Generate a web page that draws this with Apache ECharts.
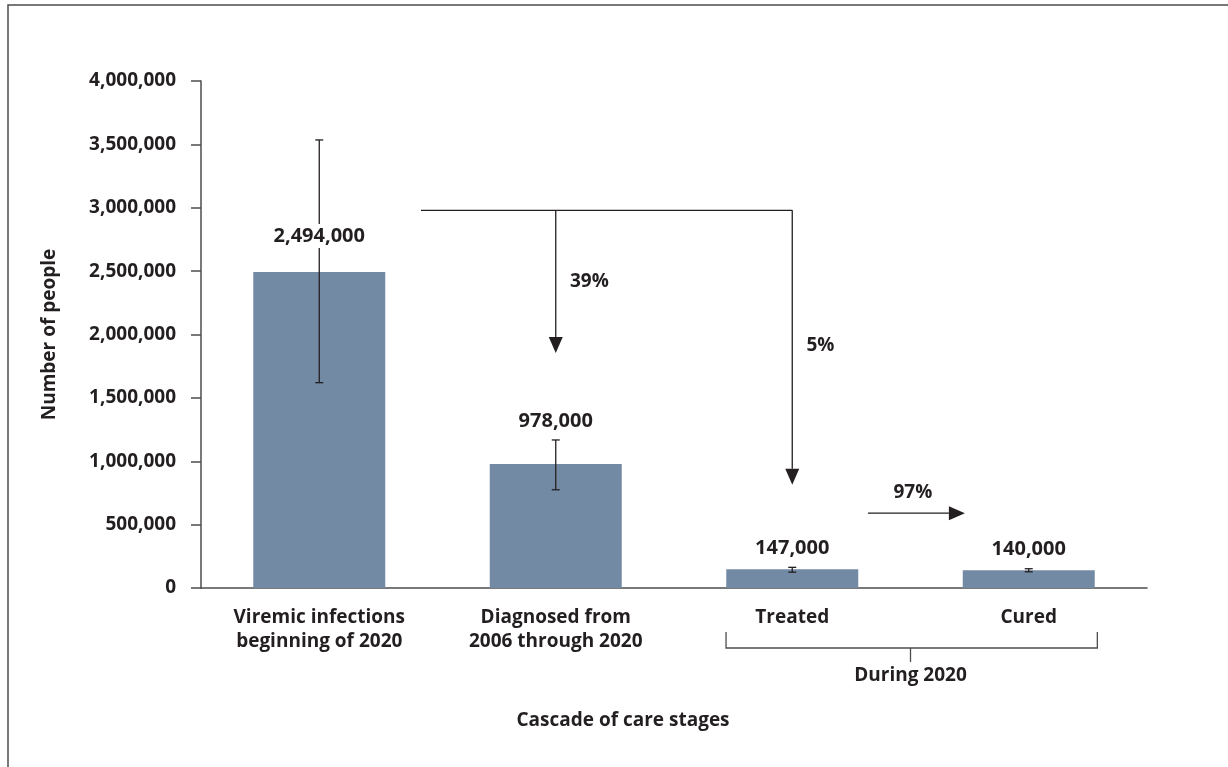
<!DOCTYPE html>
<html>
<head>
<meta charset="utf-8">
<script src="https://cdn.jsdelivr.net/npm/echarts@6/dist/echarts.min.js"></script>
<style>
  html, body { margin: 0; padding: 0; background: #fff; }
  #chart { width: 1228px; height: 767px; }
</style>
</head>
<body>
<div id="chart"></div>
<script>
"use strict";

// ---------- data ----------
const stages = ["Viremic infections\nbeginning of 2020", "Diagnosed from\n2006 through 2020", "Treated", "Cured"];
const people = [2494000, 978000, 147000, 140000];
const errLow = [1620000, 775000, 125000, 128000];
const errHigh = [3535000, 1168000, 163000, 152000];

// flow arrows in data units: [x1, y1, x2, y2] (x on a -0.5..3.5 scale matching the categories)
const flowLine = [[0.43, 2980000, 2.0, 2980000]];
const flowArrows = [
  [1.0, 2980000, 1.0, 1855000],
  [2.0, 2980000, 2.0, 815000],
  [2.32, 590000, 2.73, 590000],
];
const flowLabels = [
  { x: 1.06, y: 2420000, text: "39%" },
  { x: 2.06, y: 1910000, text: "5%" },
  { x: 2.51, y: 750000, text: "97%" },
];
// bracket grouping Treated + Cured: [left, right, middle]
const duringSpan = [1.72, 3.29, 2.5];

const FONT = "'Open Sans', sans-serif";
const INK = "#231f20";
const AXIS = "#4d4d4d";
const BAR = "#738aa5";

const fmt = (v) => Number(v).toLocaleString("en-US");

// how far above each bar top the value label sits (px)
const labelLift = [36, 43, 21, 21];

const chart = echarts.init(document.getElementById("chart"));

chart.setOption({
  animation: false,
  graphic: [
    { type: "polyline", shape: { points: [[8, 767], [8, 5], [1228, 5]] }, style: { stroke: AXIS, lineWidth: 1.5, fill: null } },
  ],
  grid: { left: 201, right: 81, top: 81, bottom: 179, containLabel: false },
  xAxis: [
    {
      type: "category",
      data: stages,
      axisLine: { lineStyle: { color: AXIS, width: 1.5 } },
      axisTick: { show: false },
      axisLabel: { color: INK, fontFamily: FONT, fontWeight: "bold", fontSize: 19, lineHeight: 24, margin: 18 },
      name: "Cascade of care stages",
      nameLocation: "middle",
      nameGap: 123,
      nameTextStyle: { color: INK, fontFamily: FONT, fontWeight: "bold", fontSize: 19, padding: [0, 102, 0, 0] },
    },
    { type: "value", min: -0.5, max: 3.5, show: false },
  ],
  yAxis: {
    type: "value",
    min: 0,
    max: 4000000,
    interval: 500000,
    axisLine: { show: true, onZero: false, lineStyle: { color: AXIS, width: 1.5 } },
    axisTick: { show: true, length: 10, lineStyle: { color: AXIS, width: 1.5 } },
    splitLine: { show: false },
    axisLabel: { color: INK, fontFamily: FONT, fontWeight: "bold", fontSize: 19, margin: 25, formatter: (v) => fmt(v) },
    name: "Number of people",
    nameLocation: "middle",
    nameGap: 142,
    nameTextStyle: { color: INK, fontFamily: FONT, fontWeight: "bold", fontSize: 19 },
  },
  series: [
    {
      type: "bar",
      barWidth: 132,
      itemStyle: { color: BAR },
      data: people,
      z: 1,
    },
    {
      // error bars + value labels (labels on top so they break the whisker)
      type: "custom",
      z: 3,
      data: stages.map((_, i) => [i, errLow[i], errHigh[i], people[i]]),
      renderItem: (params, api) => {
        const i = params.dataIndex;
        const lo = api.coord([api.value(0), api.value(1)]);
        const hi = api.coord([api.value(0), api.value(2)]);
        const top = api.coord([api.value(0), api.value(3)]);
        const cap = 4;
        const st = { stroke: INK, lineWidth: 1.3 };
        return {
          type: "group",
          children: [
            { type: "line", shape: { x1: lo[0], y1: lo[1], x2: hi[0], y2: hi[1] }, style: st },
            { type: "line", shape: { x1: lo[0] - cap, y1: lo[1], x2: lo[0] + cap, y2: lo[1] }, style: st },
            { type: "line", shape: { x1: hi[0] - cap, y1: hi[1], x2: hi[0] + cap, y2: hi[1] }, style: st },
            {
              type: "text",
              x: top[0],
              y: top[1] - labelLift[i],
              style: {
                text: fmt(api.value(3)), fill: INK, font: "bold 20px " + FONT,
                textAlign: "center", textVerticalAlign: "middle",
                backgroundColor: "#fff", padding: [2, 3],
              },
            },
          ],
        };
      },
    },
    {
      // flow line + arrows
      type: "custom",
      xAxisIndex: 1,
      z: 3,
      data: flowLine.map((d) => d.concat(0)).concat(flowArrows.map((d) => d.concat(1))),
      renderItem: (params, api) => {
        const a = api.coord([api.value(0), api.value(1)]);
        const b = api.coord([api.value(2), api.value(3)]);
        const st = { stroke: INK, lineWidth: 1.3 };
        const kids = [{ type: "line", shape: { x1: a[0], y1: a[1], x2: b[0], y2: b[1] }, style: st }];
        if (api.value(4) === 1) {
          const ang = Math.atan2(b[1] - a[1], b[0] - a[0]);
          const L = 16, W = 7;
          const bx = b[0] - L * Math.cos(ang), by = b[1] - L * Math.sin(ang);
          const px = -Math.sin(ang) * W, py = Math.cos(ang) * W;
          kids[0].shape.x2 = bx; kids[0].shape.y2 = by;
          kids.push({ type: "polygon", shape: { points: [[b[0], b[1]], [bx + px, by + py], [bx - px, by - py]] }, style: { fill: INK } });
        }
        return { type: "group", children: kids };
      },
    },
    {
      // percentage labels
      type: "custom",
      xAxisIndex: 1,
      z: 3,
      data: flowLabels.map((d) => [d.x, d.y]),
      renderItem: (params, api) => {
        const p = api.coord([api.value(0), api.value(1)]);
        const txt = flowLabels[params.dataIndex].text;
        return {
          type: "text",
          x: p[0], y: p[1],
          style: { text: txt, fill: INK, font: "bold 19px " + FONT, textAlign: txt === "97%" ? "center" : "left", textVerticalAlign: "middle" },
        };
      },
    },
    {
      // "During 2020" bracket under Treated / Cured
      type: "custom",
      xAxisIndex: 1,
      z: 3,
      clip: false,
      data: [duringSpan],
      renderItem: (params, api) => {
        const l = api.coord([api.value(0), 0]);
        const r = api.coord([api.value(1), 0]);
        const m = api.coord([api.value(2), 0]);
        const y = l[1] + 60, top = l[1] + 44;
        const st = { stroke: AXIS, lineWidth: 1.3 };
        return {
          type: "group",
          children: [
            { type: "polyline", shape: { points: [[l[0], top], [l[0], y], [r[0], y], [r[0], top]] }, style: Object.assign({ fill: null }, st) },
            { type: "line", shape: { x1: m[0], y1: y, x2: m[0], y2: y + 14 }, style: st },
            { type: "text", x: m[0], y: y + 28, style: { text: "During 2020", fill: INK, font: "bold 19px " + FONT, textAlign: "center", textVerticalAlign: "middle" } },
          ],
        };
      },
    },
  ],
});
</script>
</body>
</html>
